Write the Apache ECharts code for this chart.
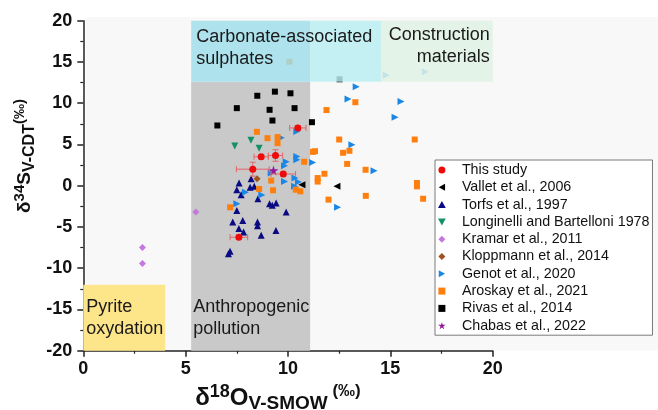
<!DOCTYPE html>
<html><head><meta charset="utf-8">
<script src="https://cdn.jsdelivr.net/npm/echarts@6/dist/echarts.min.js"></script>
<style>html,body{margin:0;padding:0;background:#fff}#c{width:658px;height:410px}</style>
</head><body><div id="c"></div>
<script>
// ---- data (δ18O, δ34S) ----
const thisStudy = [[10.48,7.0],[8.69,3.5],[9.39,3.66],[8.28,2.0],[9.77,1.42],[7.6,-6.25]];
const thisStudyErrX = [0.4,0.35,0.35,0.8,0.6,0.43];
const thisStudyErrY = [0.3,0.25,0.7,0.85,0.25,0.25];
const vallet = [[10.68,0.12],[12.39,-0.08]];
const torfs = [[7.61,0.33],[8.2,0.85],[8.35,-0.08],[8.15,-0.2],[7.5,-0.48],[7.71,-1.09],[8.53,-1.57],[9.1,-2.2],[9.23,-2.38],[9.42,-2.09],[9.91,-3.18],[7.5,-3.0],[7.3,-4.39],[7.79,-4.23],[8.51,-4.39],[8.51,-4.84],[7.6,-5.2],[7.83,-5.6],[8.69,-6.0],[9.41,-5.44],[7.17,-7.94],[7.09,-8.26]];
const longinelli = [[8.19,5.5],[7.4,4.8],[8.59,4.55]];
const kramar = [[2.89,-7.5],[2.89,-9.43],[5.5,-3.2]];
const kloppmann = [[8.49,0.85]];
const genot = [[10.43,6.57],[9.67,5.8],[10.43,3.55],[10.43,3.15],[9.91,2.9],[9.83,2.42],[9.18,1.54],[9.83,0.52],[10.34,0.93],[10.51,0.44],[10.32,-0.08],[11.2,2.82],[8.72,-1.12],[7.92,-0.79],[7.5,-2.2],[13.33,12.0],[12.93,10.52],[15.52,10.2],[15.23,8.3],[13.12,4.96],[14.2,1.81],[12.42,-2.62],[14.8,13.4],[16.71,13.8]];
const aroskay = [[8.48,6.53],[9.0,5.76],[9.49,5.89],[9.49,5.16],[10.79,2.9],[11.22,4.1],[11.32,4.18],[9.18,0.62],[8.59,-0.4],[9.27,-0.56],[10.38,-0.48],[10.6,-0.68],[11.45,0.93],[11.45,0.5],[11.78,1.45],[11.98,-1.69],[11.88,9.17],[13.29,10.12],[12.5,5.6],[16.19,5.6],[12.69,3.99],[13.0,4.23],[12.89,2.64],[13.79,1.93],[13.8,-1.23],[16.3,0.33],[16.3,-0.08],[16.6,-1.58],[7.17,-2.62],[10.07,15.03]];
const rivas = [[8.5,10.9],[9.36,11.4],[10.12,11.2],[7.5,9.4],[9.1,9.2],[10.32,9.4],[9.24,7.9],[6.55,7.3],[11.17,7.7],[12.52,12.9]];
const chabas = [[9.29,1.85]];

const legendNames = ['This study','Vallet et al., 2006','Torfs et al., 1997','Longinelli and Bartelloni 1978','Kramar et al., 2011','Kloppmann et al., 2014','Genot et al., 2020','Aroskay et al., 2021','Rivas et al., 2014','Chabas et al., 2022'];

// fields: [x1, x2, y1, y2]
const fieldPyrite = [0, 4.0, -20, -12];
const fieldAnthro = [5.27, 11.08, -20, 12.6];
const fieldCarbA = [5.27, 11.08, 12.6, 20];
const fieldCarbB = [11.08, 14.54, 12.6, 20];
const fieldConstr = [14.54, 20, 12.6, 20];

const xTicks = {min:0, max:20, interval:5};
const yTicks = {min:-20, max:20, interval:5};

// ---- symbols ----
const SQ = 'path://M0,0 L10,0 L10,10 L0,10 Z';
const UP = 'path://M5,0 L10,9 L0,9 Z';
const DOWN = 'path://M0,0 L10,0 L5,9 Z';
const LEFT = 'path://M9,0 L9,10 L0,5 Z';
const RIGHT = 'path://M0,0 L9,5 L0,10 Z';
const DIAM = 'path://M5,0 L10,5 L5,10 L0,5 Z';
const STAR = 'path://M5,0 L6.18,3.62 L10,3.62 L6.9,5.86 L8.09,9.5 L5,7.26 L1.91,9.5 L3.1,5.86 L0,3.62 L3.82,3.62 Z';
const CIRC = 'circle';

function area(f, color, label) {
  const o = [{xAxis: f[0], yAxis: f[2], itemStyle: {color: color}}, {xAxis: f[1], yAxis: f[3]}];
  if (label) o[0].label = label;
  return o;
}
const boxFont = {fontFamily: 'Arial, "Liberation Sans", sans-serif', fontSize: 18, lineHeight: 22, color: '#1a1a1a'};

function sc(name, data, symbol, size, color, z) {
  return {name, type: 'scatter', data, symbol, symbolSize: size, itemStyle: {color, opacity: 1}, z: z || 3, emphasis: {disabled: true}};
}

const errData = thisStudy.map((p, i) => [p[0], p[1], thisStudyErrX[i], thisStudyErrY[i]]);

const chart = echarts.init(document.getElementById('c'), null, {renderer: 'canvas'});
const F = 'Arial, "Liberation Sans", sans-serif';
chart.setOption({
  animation: false,
  textStyle: {fontFamily: F},
  grid: {left: 83.3, right: 165.3, top: 20.7, bottom: 59.3, containLabel: false},
  graphic: [
    {type: 'rect', z: -10, shape: {x: 86, y: 17, width: 572, height: 333.7}, style: {fill: '#f8f8f8'}},
    {type: 'text', x: 25, y: 156, rotation: Math.PI/2, style: {
      text: '{a|δ}{s|34}{a|S}{b|V-CDT}{s|(‰)}', align: 'center', verticalAlign: 'middle',
      rich: {
        a: {fontFamily: F, fontWeight: 'bold', fontSize: 19, lineHeight: 26, fill: '#111'},
        s: {fontFamily: F, fontWeight: 'bold', fontSize: 15, lineHeight: 15, verticalAlign: 'top', fill: '#111'},
        b: {fontFamily: F, fontWeight: 'bold', fontSize: 16, lineHeight: 18, verticalAlign: 'bottom', fill: '#111'}
      }}},
    {type: 'text', x: 278, y: 398, style: {
      text: '{a|δ}{s|18}{a|O}{b|V-SMOW}{p| (‰)}', align: 'center', verticalAlign: 'middle',
      rich: {
        a: {fontFamily: F, fontWeight: 'bold', fontSize: 24, lineHeight: 30, fill: '#111'},
        s: {fontFamily: F, fontWeight: 'bold', fontSize: 18, lineHeight: 18, verticalAlign: 'top', fill: '#111'},
        p: {fontFamily: F, fontWeight: 'bold', fontSize: 17, lineHeight: 22, verticalAlign: 'top', fill: '#111'},
        b: {fontFamily: F, fontWeight: 'bold', fontSize: 19, lineHeight: 21, verticalAlign: 'bottom', fill: '#111'}
      }}}
  ],
  legend: {
    data: legendNames, orient: 'vertical', left: 435, top: 160,
    itemWidth: 30, itemHeight: 7, itemGap: 0.3, selectedMode: false,
    padding: [1.5, 3, 1, 3], borderColor: '#7a7a7a', borderWidth: 1, backgroundColor: '#fff',
    textStyle: {fontFamily: F, fontSize: 14.3, lineHeight: 17, color: '#111', padding: [0,0,0,0]}
  },
  xAxis: {
    type: 'value', min: xTicks.min, max: xTicks.max, interval: xTicks.interval,
    splitLine: {show: false},
    axisLine: {onZero: false, lineStyle: {color: '#222', width: 1.5}},
    axisTick: {length: 6, lineStyle: {color: '#222', width: 1.5}},
    minorTick: {show: true, splitNumber: 2, length: 3, lineStyle: {color: '#222', width: 1.2}},
    axisLabel: {fontFamily: F, fontSize: 18, fontWeight: 'bold', color: '#111', margin: 9}
  },
  yAxis: {
    type: 'value', min: yTicks.min, max: yTicks.max, interval: yTicks.interval,
    splitLine: {show: false},
    axisLine: {onZero: false, lineStyle: {color: '#222', width: 1.5}},
    axisTick: {length: 6, lineStyle: {color: '#222', width: 1.5}},
    minorTick: {show: true, splitNumber: 2, length: 3, lineStyle: {color: '#222', width: 1.2}},
    axisLabel: {fontFamily: F, fontSize: 18, fontWeight: 'bold', color: '#111', margin: 11}
  },
  series: [
    {name: 'fieldsBottom', type: 'scatter', data: [], z: 1, silent: true,
      markArea: {silent: true, z: 1, data: [
        area(fieldPyrite, '#fde58a', Object.assign({show: true, position: 'insideLeft', distance: 3, formatter: 'Pyrite\noxydation'}, boxFont)),
        area(fieldAnthro, '#c9c9c9'),
        area([fieldAnthro[0], fieldAnthro[1], -20, -12], 'rgba(0,0,0,0)', Object.assign({show: true, position: 'insideLeft', distance: 2, formatter: 'Anthropogenic\npollution'}, boxFont))
      ]}},
    sc('Vallet et al., 2006', vallet, LEFT, 7, '#000'),
    sc('Torfs et al., 1997', torfs, UP, 7, '#0a0a82'),
    sc('Longinelli and Bartelloni 1978', longinelli, DOWN, 7, '#14906a'),
    sc('Kramar et al., 2011', kramar, DIAM, 7, '#c478dc'),
    sc('Kloppmann et al., 2014', kloppmann, DIAM, 7, '#a0521e'),
    sc('Genot et al., 2020', genot, RIGHT, 7, '#1a86e6'),
    sc('Aroskay et al., 2021', aroskay, SQ, 6, '#ff7f0e'),
    sc('Rivas et al., 2014', rivas, SQ, 6, '#000'),
    sc('Chabas et al., 2022', chabas, STAR, 10, '#93179b'),
    {name: 'errbars', type: 'custom', data: errData, z: 4, silent: true,
      encode: {x: 0, y: 1},
      renderItem: function (params, api) {
        const x = api.value(0), y = api.value(1), ex = api.value(2), ey = api.value(3);
        const l = api.coord([x - ex, y]), r = api.coord([x + ex, y]);
        const t = api.coord([x, y + ey]), b = api.coord([x, y - ey]);
        const c = 3, st = {stroke: '#e4666a', lineWidth: 1};
        return {type: 'group', children: [
          {type: 'line', shape: {x1: l[0], y1: l[1], x2: r[0], y2: r[1]}, style: st},
          {type: 'line', shape: {x1: l[0], y1: l[1]-c, x2: l[0], y2: l[1]+c}, style: st},
          {type: 'line', shape: {x1: r[0], y1: r[1]-c, x2: r[0], y2: r[1]+c}, style: st},
          {type: 'line', shape: {x1: t[0], y1: t[1], x2: b[0], y2: b[1]}, style: st},
          {type: 'line', shape: {x1: t[0]-c, y1: t[1], x2: t[0]+c, y2: t[1]}, style: st},
          {type: 'line', shape: {x1: b[0]-c, y1: b[1], x2: b[0]+c, y2: b[1]}, style: st}
        ]};
      }},
    sc('This study', thisStudy, CIRC, 7, '#ee0a0a', 5),
    {name: 'fieldsTop', type: 'scatter', data: [], z: 6, silent: true,
      markArea: {silent: true, z: 6, data: [
        area(fieldCarbA, 'rgba(160,222,234,0.84)', Object.assign({show: true, position: 'insideTopLeft', distance: 5, formatter: 'Carbonate-associated\nsulphates'}, boxFont)),
        area(fieldCarbB, 'rgba(186,238,242,0.84)'),
        area(fieldConstr, 'rgba(224,242,228,0.86)', Object.assign({show: true, position: 'insideTopRight', distance: 3, formatter: 'Construction\nmaterials'}, boxFont))
      ]}}
  ]
});
</script></body></html>
